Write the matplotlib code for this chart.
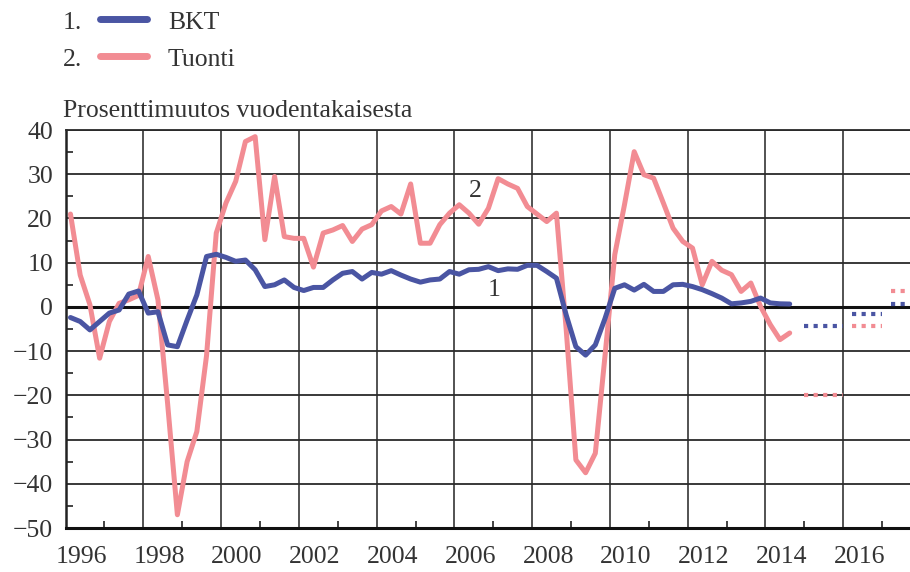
import numpy as np
import matplotlib.pyplot as plt
from matplotlib.lines import Line2D
from matplotlib import transforms

plt.rcParams['font.family'] = ['Liberation Serif', 'DejaVu Serif']
plt.rcParams['axes.unicode_minus'] = True

# quarterly data, 1996Q1 ->
start_year = 1996
bkt = [-2.4, -3.3, -5.2, -3.3, -1.4, -0.7, 2.9, 3.6, -1.4, -1.1,
       -8.6, -9.0, -3.0, 2.7, 11.4, 11.9, 11.2, 10.3, 10.6, 8.4,
       4.6, 5.0, 6.1, 4.4, 3.7, 4.4, 4.4, 6.1, 7.6, 8.0,
       6.3, 7.8, 7.4, 8.2, 7.2, 6.3, 5.6, 6.1, 6.3, 8.0,
       7.4, 8.4, 8.5, 9.1, 8.2, 8.6, 8.5, 9.4, 9.4, 8.0,
       6.5, -1.8, -9.0, -10.9, -8.6, -2.6, 4.2, 5.0, 3.8, 5.1,
       3.5, 3.5, 5.0, 5.1, 4.6, 3.9, 3.0, 2.0, 0.7, 0.9,
       1.25, 2.0, 0.9, 0.7, 0.65]
tuonti = [21.0, 7.2, 0.5, -11.6, -3.3, 0.8, 1.6, 2.6, 11.4, 1.6,
          -22.0, -47.0, -35.0, -28.2, -11.0, 16.7, 23.5, 28.4, 37.4, 38.5,
          15.2, 29.5, 15.9, 15.5, 15.5, 9.0, 16.7, 17.4, 18.4, 14.8,
          17.6, 18.6, 21.7, 22.7, 21.0, 27.8, 14.4, 14.4, 18.6, 21.2,
          23.1, 21.2, 18.7, 22.3, 29.0, 27.8, 26.8, 22.7, 21.0, 19.3,
          21.2, -5.0, -34.6, -37.5, -33.1, -11.0, 11.8, 23.1, 35.1, 29.9,
          29.1, 23.5, 17.8, 14.8, 13.3, 5.0, 10.3, 8.3, 7.3, 3.5,
          5.4, 0.1, -4.0, -7.4, -5.9]

# annual forecasts
fc_years = [2015, 2016, 2017]
fc_bkt = [-4.4, -1.7, 0.6]
fc_tuonti = [-20.0, -4.4, 3.5]
fc_lead = [0.0, 0.22, 0.22]   # gap before first dot

year_ticks = list(range(1996, 2017, 2))
y_ticks = list(range(-50, 41, 10))

blue = '#4A55A3'
pink = '#F28C93'
txt = '#333333'

x = start_year + (np.arange(len(bkt)) + 0.5) / 4

fig = plt.figure(figsize=(9.1, 5.72), dpi=100)
ax = fig.add_axes([0.0721, 0.0769, 1.012 - 0.0721, 0.7727 - 0.0769])

ax.plot(x, tuonti, color=pink, lw=3.6, solid_joinstyle='round', solid_capstyle='round', zorder=4)
ax.plot(x, bkt, color=blue, lw=3.6, solid_joinstyle='round', solid_capstyle='round', zorder=5)

for yr, b, t, lead in zip(fc_years, fc_bkt, fc_tuonti, fc_lead):
    ax.plot([yr + lead, yr + 1], [b, b], color=blue, lw=3, ls=(0, (1, 1.3)),
            dash_capstyle='butt', zorder=5)
    ax.plot([yr + lead, yr + 1], [t, t], color=pink, lw=3, ls=(0, (1, 1.3)),
            dash_capstyle='butt', zorder=4)

ax.set_xlim(1996, 2018)
ax.set_ylim(-50, 40)

ax.set_yticks(y_ticks)
ax.set_yticklabels([str(v).replace('-', '\u2212') for v in y_ticks])
ax.set_yticks([v + 5 for v in y_ticks[:-1]], minor=True)
ax.set_xticks(year_ticks)
ax.set_xticklabels([str(v) for v in year_ticks])
ax.set_xticks([v + 1 for v in year_ticks], minor=True)

ax.tick_params(axis='both', which='major', length=0, labelsize=18.5, colors=txt)
ax.tick_params(axis='y', which='major', pad=9)
ax.tick_params(axis='x', which='major', pad=13)
ax.tick_params(axis='both', which='minor', direction='in', length=5, width=1.2, color='#222222')

# shift year labels to the middle of the year
shift = transforms.ScaledTranslation(16 / 100, 0, fig.dpi_scale_trans)
for lbl in ax.get_xticklabels():
    lbl.set_transform(lbl.get_transform() + shift)

ax.grid(True, which='major', axis='y', color='#2a2a2a', lw=1.3, zorder=1)
ax.grid(True, which='major', axis='x', color='#444444', lw=1.3, zorder=1)
ax.axhline(0, color='#111111', lw=2.2, zorder=2)

for s in ['right']:
    ax.spines[s].set_visible(False)
ax.spines['top'].set_color('#2a2a2a')
ax.spines['top'].set_linewidth(1.3)
ax.spines['left'].set_color('#222222')
ax.spines['left'].set_linewidth(1.8)
ax.spines['bottom'].set_color('#111111')
ax.spines['bottom'].set_linewidth(2.2)

ax.text(2006.55, 26.1, '2', fontsize=18.5, color=txt, ha='center', va='center', zorder=6)
ax.text(2007.01, 3.9, '1', fontsize=18.5, color=txt, ha='center', va='center', zorder=6)

fig.text(63 / 910, 1 - 117 / 572, 'Prosenttimuutos vuodentakaisesta',
         fontsize=18.5, color=txt, ha='left', va='baseline')

# legend
for i, (num, name, col) in enumerate([('1.', 'BKT', blue), ('2.', 'Tuonti', pink)]):
    yc = 1 - (19 + 37 * i) / 572
    yb = 1 - (29 + 37 * i) / 572
    fig.text(63 / 910, yb, num, fontsize=18.5, color=txt, ha='left', va='baseline')
    fig.add_artist(Line2D([100 / 910, 147 / 910], [yc, yc], color=col, lw=5,
                          solid_capstyle='round', transform=fig.transFigure))
    fig.text(168 / 910, yb, name, fontsize=18.5, color=txt, ha='left', va='baseline')

fig.savefig('out.png', dpi=100)
